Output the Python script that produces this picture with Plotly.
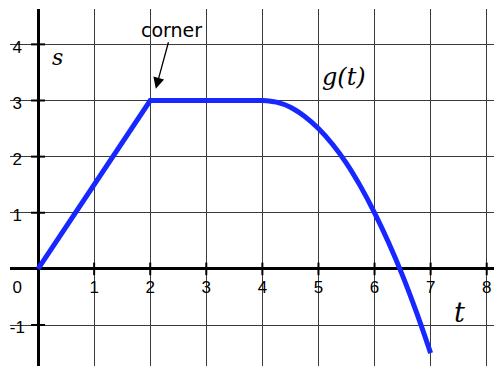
"""Piecewise function g(t) on a grid, with a labelled corner."""

import plotly.graph_objects as go

# curve: straight ramp and plateau, then the falling arc
LINE_T = [0, 2, 4]
LINE_S = [0, 3, 3]
CURVE_T = [4, 4.25, 4.5, 4.75, 5, 5.25, 5.5, 5.75, 6, 6.25, 6.5, 6.75, 7]
CURVE_S = [3, 2.97, 2.88, 2.72, 2.5, 2.22, 1.88, 1.47, 1.0, 0.47, -0.12, -0.78, -1.5]

X_TICKS = [1, 2, 3, 4, 5, 6, 7, 8]
X_TICK_LABELS = ["1", "2", "3", "4", "5", "6", "7", "8"]
Y_TICKS = [4, 3, 2, 1, -1]
Y_TICK_LABELS = ["4", "3", "2", "1", "-1"]

CURVE_COLOR = "#1628FF"
GRID_COLOR = "#3A3A3A"
SANS = "Liberation Sans, Arial, sans-serif"
LABEL_SANS = "DejaVu Sans, Verdana, sans-serif"
SERIF = "DejaVu Serif, Georgia, serif"

fig = go.Figure()

fig.add_trace(go.Scatter(
    x=LINE_T, y=LINE_S, mode="lines",
    line={"color": CURVE_COLOR, "width": 5},
    hoverinfo="skip",
))
fig.add_trace(go.Scatter(
    x=CURVE_T, y=CURVE_S, mode="lines",
    line={"color": CURVE_COLOR, "width": 5, "shape": "spline", "smoothing": 1},
    hoverinfo="skip",
))

# tick marks crossing the axes
fig.add_trace(go.Scatter(
    x=X_TICKS, y=[0] * len(X_TICKS), mode="markers",
    marker={"symbol": "line-ns", "size": 9, "line": {"color": "black", "width": 2}},
    hoverinfo="skip",
))
fig.add_trace(go.Scatter(
    x=[0] * len(Y_TICKS), y=Y_TICKS, mode="markers",
    marker={"symbol": "line-ew", "size": 10, "line": {"color": "black", "width": 2}},
    hoverinfo="skip",
))

# tick labels sit inside the grid, next to the axes
fig.add_trace(go.Scatter(
    x=X_TICKS + [-0.37], y=[-0.36] * (len(X_TICKS) + 1),
    text=X_TICK_LABELS + ["0"], mode="text",
    textfont={"family": SANS, "size": 17, "color": "black"},
    hoverinfo="skip",
))
fig.add_trace(go.Scatter(
    x=[-0.37] * len(Y_TICKS), y=[v - 0.07 for v in Y_TICKS],
    text=Y_TICK_LABELS, mode="text",
    textfont={"family": SANS, "size": 17, "color": "black"},
    hoverinfo="skip",
))

annotations = [
    {"x": 0.34, "y": 3.76, "text": "<i>s</i>", "showarrow": False,
     "font": {"family": SERIF, "size": 22, "color": "black"}},
    {"x": 7.52, "y": -0.77, "text": "<i>t</i>", "showarrow": False,
     "font": {"family": SERIF, "size": 27, "color": "black"}},
    {"x": 5.45, "y": 3.42, "text": "<i>g(t)</i>", "showarrow": False,
     "font": {"family": SERIF, "size": 24, "color": "black"}},
    {"x": 2.1, "y": 3.21, "text": "corner", "showarrow": True,
     "ax": 16, "ay": -59, "arrowhead": 2, "arrowsize": 1.7, "arrowwidth": 1.3,
     "arrowcolor": "black", "standoff": 0,
     "font": {"family": LABEL_SANS, "size": 19, "color": "black"}},
]

axis_common = {
    "showgrid": True,
    "gridcolor": GRID_COLOR,
    "gridwidth": 1,
    "dtick": 1,
    "tick0": 0,
    "zeroline": True,
    "zerolinecolor": "black",
    "zerolinewidth": 2.5,
    "showticklabels": False,
    "ticks": "",
    "showline": False,
    "fixedrange": True,
}

fig.update_layout(
    width=494,
    height=366,
    paper_bgcolor="white",
    plot_bgcolor="white",
    margin={"l": 10, "r": 0, "t": 9, "b": 0},
    showlegend=False,
    hovermode=False,
    annotations=annotations,
    xaxis={**axis_common, "range": [-0.5, 8.13]},
    yaxis={**axis_common, "range": [-1.73, 4.63]},
)

# the page's default body margin would push the figure off its window
fig.write_html(
    "out.html",
    config={"displayModeBar": False},
    post_script="document.body.style.margin = '0';",
)
